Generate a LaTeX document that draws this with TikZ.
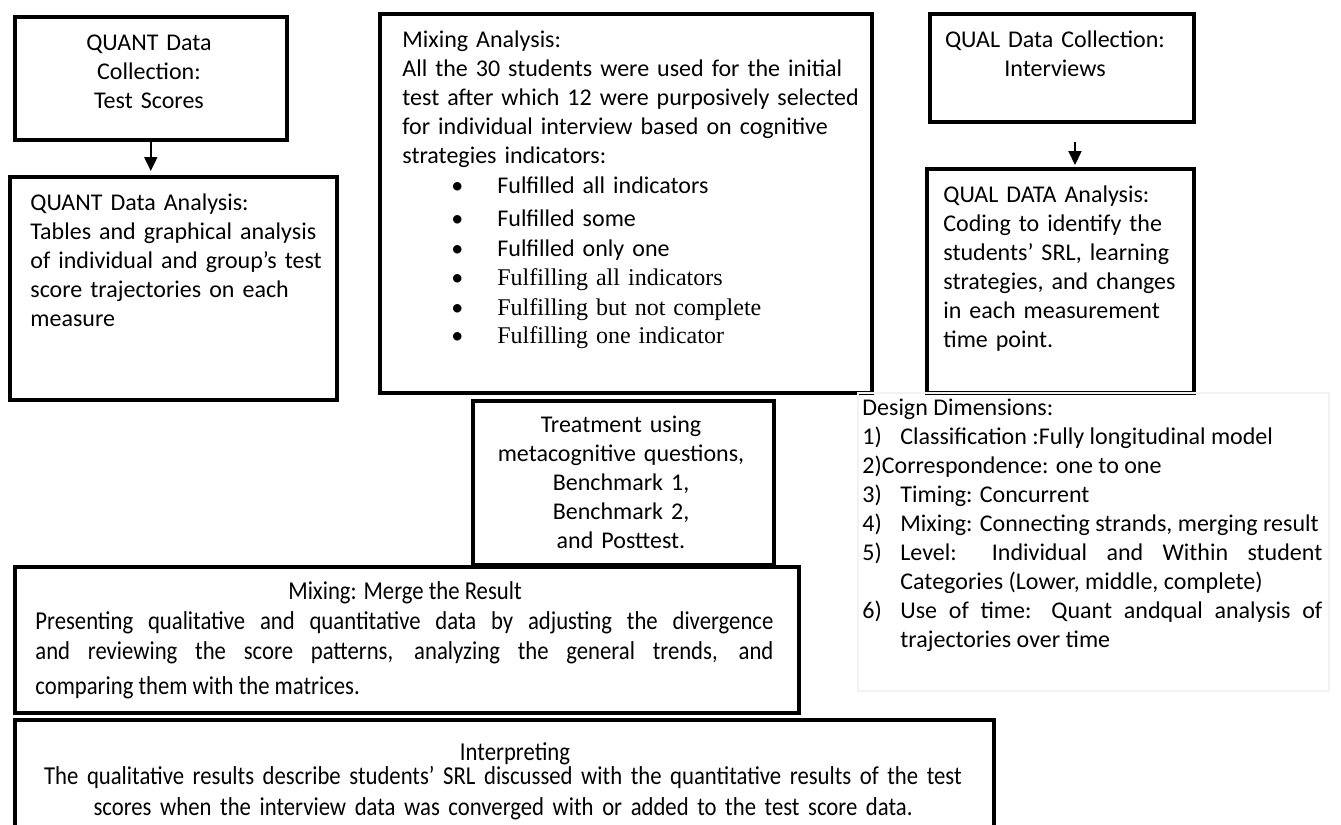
\documentclass[tikz,border=0pt]{standalone}
\usepackage{fontspec}
\setmainfont{Carlito}
\newfontfamily\timesfont{Liberation Serif}
\newfontfamily\narrowfont[FakeStretch=0.88]{Carlito}
\usepackage{tikz}
\usetikzlibrary{arrows.meta}
\setlength{\parindent}{0pt}
\newcommand{\dimitem}[1]{\par\hangindent=19pt\hangafter=1\makebox[19pt][l]{#1}}
\newcommand{\bulletitem}{\hspace*{24.5pt}\makebox[23pt][l]{\textbullet}}

\begin{document}
\begin{tikzpicture}[x={(0.5pt,0pt)},y={(0pt,-0.5pt)},
    panel/.style={draw,line width=1.8pt,anchor=north west,inner sep=0pt},
    faintbox/.style={draw=black!5,line width=0.8pt,anchor=north west,inner sep=0pt},
    txt/.style={inner sep=0pt,font=\fontsize{12}{14.5}\selectfont},
    narrowtxt/.style={inner sep=0pt,font=\narrowfont\fontsize{12.9}{15}\selectfont},
    flow/.style={line width=1pt,-{Triangle[length=7pt,width=6.5pt]}}]
    \useasboundingbox (0,0) rectangle (1341,825);
    \clip (0,0) rectangle (1341,825);

    % QUANT strand
    \node[panel,minimum width=136pt,minimum height=61.5pt] (qncoll) at (13,15) {};
    \node[txt,text width=130pt,align=center,anchor=base] (qncolltxt) at (149,50)
        {QUANT Data\\Collection:\\Test Scores};
    \node[panel,minimum width=163.5pt,minimum height=111.5pt] (qnana) at (8,175) {};
    \node[txt,text width=150pt,align=left,anchor=base west] (qnanatxt) at (30,210)
        {QUANT Data Analysis:\\Tables and graphical analysis\\of individual and group’s test\\score trajectories on each\\measure};
    \draw[flow,shorten >=2pt] (qncoll.south) -- (qncoll.south |- qnana.north);

    % Mixing analysis
    \node[panel,minimum width=246pt,minimum height=189.5pt] (mixana) at (378,12) {};
    \node[txt,text width=230pt,align=left,anchor=base west] (mixanatxt) at (402,47)
        {Mixing Analysis:\\
         All the 30 students were used for the initial\\
         test after which 12 were purposively selected\\
         for individual interview based on cognitive\\
         strategies indicators:\\[0.5pt]
         \bulletitem Fulfilled all indicators\\[2pt]
         \bulletitem Fulfilled some\\[0.5pt]
         \bulletitem Fulfilled only one\\
         \bulletitem{\timesfont Fulfilling all indicators}\\[0.5pt]
         \bulletitem{\timesfont Fulfilling but not complete}\\[-0.5pt]
         \bulletitem{\timesfont Fulfilling one indicator}};

    % QUAL strand
    \node[panel,minimum width=132pt,minimum height=54pt] (qlcoll) at (928,12) {};
    \node[txt,text width=130pt,align=center,anchor=base] (qlcolltxt) at (1055,47)
        {QUAL Data Collection:\\Interviews};
    \node[panel,minimum width=133.5pt,minimum height=112pt] (qlana) at (925,167) {};
    \node[txt,text width=125pt,align=left,anchor=base west] (qlanatxt) at (943,202)
        {QUAL DATA Analysis:\\Coding to identify the\\students’ SRL, learning\\strategies, and changes\\in each measurement\\time point.};
    \coordinate (qltop) at (1075,142);
    \draw[flow,shorten >=1pt] (qltop) -- (qltop |- qlana.north);

    % Treatment
    \node[panel,minimum width=150.5pt,minimum height=82pt] (treat) at (471,399) {};
    \node[txt,text width=145pt,align=center,anchor=base] (treattxt) at (621,432)
        {Treatment using\\metacognitive questions,\\Benchmark 1,\\Benchmark 2,\\and Posttest.};

    % Design dimensions
    \node[faintbox,minimum width=235.5pt,minimum height=149pt] (dimbox) at (857,392) {};
    \node[txt,text width=230pt,align=justify,anchor=base west] (dimtxt) at (862,415)
        {Design Dimensions:
         \dimitem{1)}Classification :Fully longitudinal model
         \par 2)Correspondence: one to one
         \dimitem{3)}Timing: Concurrent
         \dimitem{4)}Mixing: Connecting strands, merging result
         \dimitem{5)}Level: Individual and Within student\linebreak Categories (Lower, middle, complete)
         \dimitem{6)}Use of time: Quant andqual analysis of\linebreak trajectories over time\par};

    % Merge
    \node[panel,minimum width=392pt,minimum height=73pt] (merge) at (13,565) {};
    \node[narrowtxt,anchor=base] (mergetitle) at (405,599) {Mixing: Merge the Result};
    \node[narrowtxt,text width=369pt,align=justify,anchor=base west] (mergetxt) at (35,629)
        {Presenting qualitative and quantitative data by adjusting the divergence\linebreak
         and reviewing the score patterns, analyzing the general trends, and\vspace{2.5pt}\linebreak
         comparing them with the matrices.};

    % Interpreting
    \node[panel,minimum width=489.5pt,minimum height=70pt] (interp) at (13,718) {};
    \node[narrowtxt,text width=485pt,align=center,anchor=base] (interptxt) at (503,760)
        {\hspace*{12pt}Interpreting\\[-3pt]
         The qualitative results describe students’ SRL discussed with the quantitative results of the test\\[0.5pt]
         scores when the interview data was converged with or added to the test score data.};
\end{tikzpicture}
\end{document}
